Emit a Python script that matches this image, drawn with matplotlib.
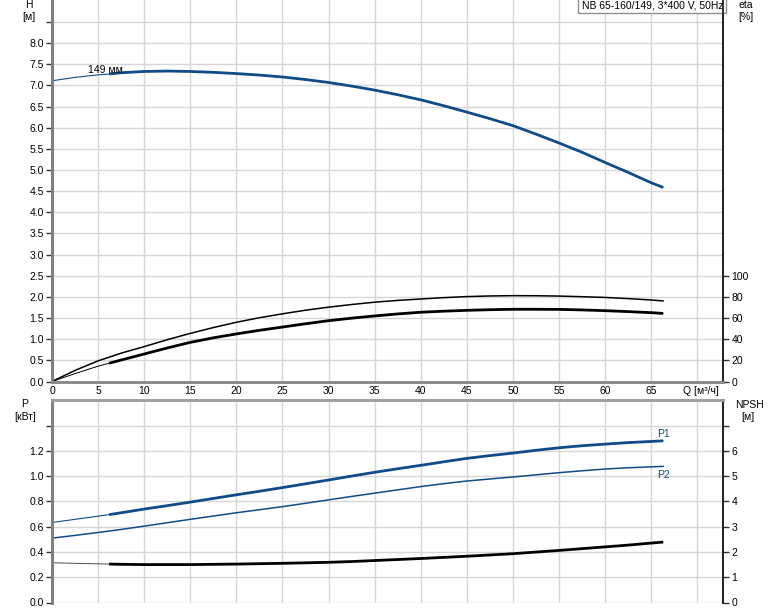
"""Pump curve sheet: H / eta on top, P / NPSH below."""
import matplotlib

matplotlib.use("Agg")
import matplotlib.pyplot as plt

plt.rcParams["font.family"] = ["Liberation Sans", "DejaVu Sans"]
plt.rcParams["font.size"] = 7.5

# flow points [m3/h]; 6.2 is where the duty range (thick line) begins
Q = [0, 2.5, 5, 6.2, 7.5, 10, 12.5, 15, 17.5, 20, 22.5, 25, 27.5, 30, 32.5, 35,
     37.5, 40, 42.5, 45, 47.5, 50, 52.5, 55, 57.5, 60, 62.5, 65, 66.3]
H = [7.11, 7.19, 7.25, 7.27, 7.30, 7.33, 7.34, 7.33, 7.31, 7.28, 7.245, 7.20, 7.14, 7.07,
     6.985, 6.89, 6.78, 6.66, 6.52, 6.37, 6.215, 6.05, 5.85, 5.64, 5.42, 5.18, 4.945, 4.70, 4.59]
eta_pump = [0, 10.5, 19.5, 23, 26.8, 33, 39.5, 45.5, 51, 56, 60.3, 64, 67.4, 70.3, 72.8, 75,
            76.7, 78, 79.3, 80.3, 80.9, 81.2, 81.1, 80.8, 80.2, 79.5, 78.4, 77.1, 76.2]
eta_total = [0, 7.5, 14.5, 17.3, 20.3, 26, 31.7, 37, 41.3, 45, 48.4, 51.5, 54.6, 57.5, 59.9, 62,
             63.9, 65.5, 66.5, 67.3, 67.9, 68.3, 68.3, 68.2, 67.7, 67, 66.1, 65.1, 64.4]
P1 = [0.633, 0.658, 0.683, 0.695, 0.71, 0.739, 0.766, 0.794, 0.823, 0.852, 0.88, 0.909, 0.939,
      0.969, 1.0, 1.03, 1.058, 1.085, 1.113, 1.14, 1.162, 1.182, 1.204, 1.224, 1.24, 1.253,
      1.265, 1.274, 1.279]
P2 = [0.509, 0.531, 0.554, 0.565, 0.578, 0.604, 0.631, 0.658, 0.684, 0.71, 0.734, 0.758, 0.785,
      0.812, 0.839, 0.865, 0.891, 0.917, 0.94, 0.961, 0.977, 0.993, 1.01, 1.027, 1.042, 1.056,
      1.066, 1.073, 1.077]
NPSH = [1.57, 1.55, 1.53, 1.52, 1.51, 1.50, 1.50, 1.50, 1.51, 1.52, 1.535, 1.55, 1.57, 1.59,
        1.62, 1.66, 1.70, 1.74, 1.785, 1.83, 1.88, 1.93, 1.995, 2.06, 2.13, 2.20, 2.27, 2.35, 2.39]

q_ticks = list(range(0, 71, 5))
h_ticks = [i * 0.5 for i in range(18)]
eta_ticks = [0, 20, 40, 60, 80, 100]
p_ticks = [0.0, 0.2, 0.4, 0.6, 0.8, 1.0, 1.2, 1.4]
npsh_ticks = [0, 1, 2, 3, 4, 5, 6, 7]

BLUE = "#0f4c88"
GRID = "#d6d6d6"
W, Hpx = 774, 611
i0 = Q.index(6.2)

fig = plt.figure(figsize=(W / 100, Hpx / 100), dpi=100)
left, width = 52 / W, 671 / W
ax_h = fig.add_axes([left, 1 - 381.5 / Hpx, width, 381.5 / Hpx])
ax_p = fig.add_axes([left, 1 - 602.5 / Hpx, width, 202.5 / Hpx])
ax_e = ax_h.twinx()
ax_n = ax_p.twinx()

for ax in (ax_h, ax_p):
    ax.set_xlim(0, 72.8)
    ax.set_xticks(q_ticks)
    ax.grid(True, color=GRID, linewidth=1)
    ax.set_axisbelow(True)
    ax.tick_params(axis="y", length=4, width=1, pad=2, color="#333333")
    ax.tick_params(axis="x", length=0, pad=3)

ax_h.set_ylim(0, 9.02)
ax_h.set_yticks(h_ticks)
ax_h.set_yticklabels([f"{v:.1f}" for v in h_ticks[:-1]] + [""])
ax_h.set_xticklabels([str(v) if v <= 65 else "" for v in q_ticks])
ax_e.set_ylim(0, 9.02 * 40)
ax_e.set_yticks(eta_ticks)

ax_p.set_ylim(0, 1.602)
ax_p.set_yticks(p_ticks)
ax_p.set_yticklabels([f"{v:.1f}" for v in p_ticks[:-1]] + [""])
ax_p.set_xticklabels([])
ax_n.set_ylim(0, 1.602 * 5)
ax_n.set_yticks(npsh_ticks)
ax_n.set_yticklabels([str(v) for v in npsh_ticks[:-1]] + [""])

for ax in (ax_e, ax_n):
    ax.tick_params(axis="y", length=4, width=1, pad=2, color="#333333")

# spines
for ax in (ax_h, ax_e):
    ax.spines["top"].set_visible(False)
for ax in (ax_p, ax_n):
    ax.spines["bottom"].set_visible(False)
    ax.spines["top"].set_color("#a0a0a0")
    ax.spines["top"].set_linewidth(2)
for ax in (ax_h, ax_p, ax_e, ax_n):
    ax.spines["left"].set_color("#808080")
    ax.spines["left"].set_linewidth(2)
    ax.spines["right"].set_color("#222222")
    ax.spines["right"].set_linewidth(1.3)
for ax in (ax_h, ax_e):
    ax.spines["bottom"].set_color("#8c8c8c")
    ax.spines["bottom"].set_linewidth(2)

# top panel curves
ax_h.plot(Q, H, color=BLUE, lw=0.8)
ax_h.plot(Q[i0:], H[i0:], color=BLUE, lw=2, solid_capstyle="butt")
ax_e.plot(Q, eta_pump, color="black", lw=1.1)
ax_e.plot(Q, eta_total, color="black", lw=0.7)
ax_e.plot(Q[i0:], eta_total[i0:], color="black", lw=2, solid_capstyle="butt")
ax_h.text(3.9, 7.37, "149 мм", ha="left", va="center")

# bottom panel curves
ax_p.plot(Q, P1, color=BLUE, lw=0.8)
ax_p.plot(Q[i0:], P1[i0:], color=BLUE, lw=2, solid_capstyle="butt")
ax_p.plot(Q, P2, color=BLUE, lw=1.1)
ax_n.plot(Q, NPSH, color="black", lw=0.7, alpha=0.7)
ax_n.plot(Q[i0:], NPSH[i0:], color="black", lw=2, solid_capstyle="butt")
ax_p.text(65.6, 1.335, "P1", ha="left", va="center", color=BLUE)
ax_p.text(65.6, 1.005, "P2", ha="left", va="center", color=BLUE)

ax_h.text(1.0, 1.0, "NB 65-160/149, 3*400 V, 50Hz", transform=ax_h.transAxes,
          ha="right", va="top",
          bbox=dict(boxstyle="square,pad=0.3", facecolor="white", edgecolor="#909090", lw=1))


# axis captions
def cap(x, y, s):
    fig.text(x / W, 1 - y / Hpx, s, ha="center", va="center")


cap(29, 5, "H")
cap(29, 17, "[м]")
cap(746, 5, "eta")
cap(746, 17, "[%]")
cap(25, 404, "P")
cap(25, 417, "[кВт]")
cap(749, 405, "NPSH")
cap(748, 417, "[м]")
cap(701, 391, "Q [м³/ч]")

fig.savefig("out.png", dpi=100)
